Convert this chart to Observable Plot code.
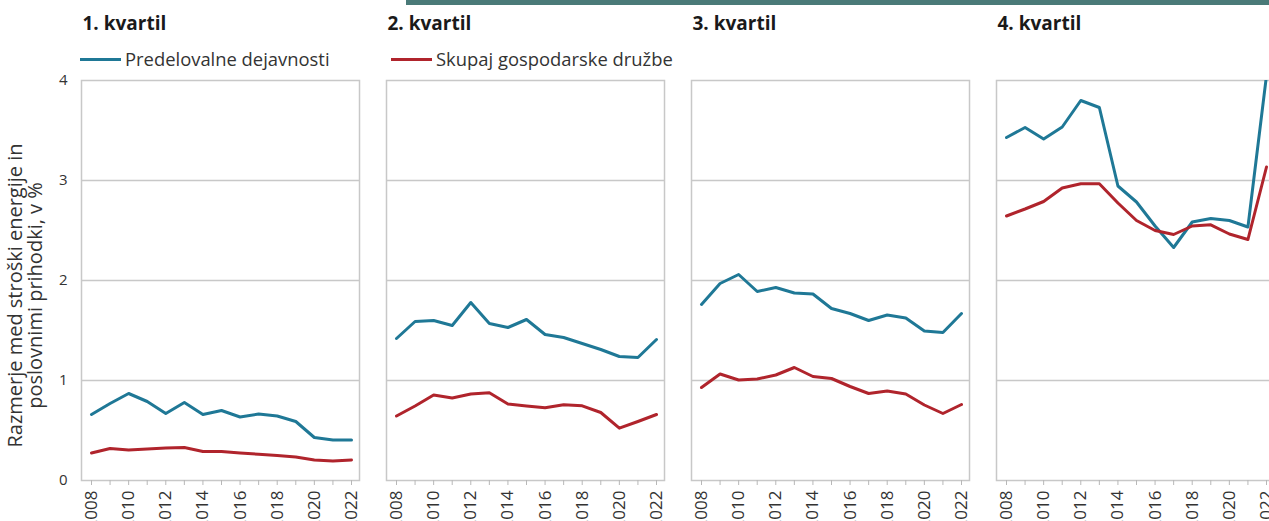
<!DOCTYPE html>
<html>
<head>
<meta charset="utf-8">
<script src="https://cdn.jsdelivr.net/npm/d3@7"></script>
<script src="https://cdn.jsdelivr.net/npm/@observablehq/plot@0.6"></script>
<style>
  html, body { margin: 0; padding: 0; background: #fff; }
  #wrap { position: relative; width: 1269px; height: 521px; overflow: hidden; font-family: "Open Sans", sans-serif; color: #333; }
  #topbar { position: absolute; left: 406px; top: 0; width: 863px; height: 5px; background: #4a7a78; }
  .leg { position: absolute; top: 46px; font-size: 18.4px; color: #333; white-space: nowrap; display: flex; align-items: center; }
  .leg .sw { display: inline-block; width: 41px; height: 3px; margin-right: 4px; margin-top: 2px; }
  #chart { position: absolute; left: 0; top: 0; }
  #chart svg { max-width: none !important; width: 1280px !important; height: 525px !important; }
</style>
</head>
<body>
<div id="wrap">
  <div id="topbar"></div>
  <div id="chart"></div>
</div>
<script>
const years = [2008, 2009, 2010, 2011, 2012, 2013, 2014, 2015, 2016, 2017, 2018, 2019, 2020, 2021, 2022];
const quartiles = ["1. kvartil", "2. kvartil", "3. kvartil", "4. kvartil"];
const seriesNames = ["Predelovalne dejavnosti", "Skupaj gospodarske družbe"];
const seriesColors = ["#1f7896", "#b0242c"];
const yTicks = [0, 1, 2, 3, 4];
const yGrid = [1, 2, 3];
const yLabel = "Razmerje med stroški energije in\nposlovnimi prihodki, v %";

// Predelovalne dejavnosti (manufacturing)
const manufQ1 = [0.66, 0.77, 0.87, 0.79, 0.67, 0.78, 0.66, 0.70, 0.635, 0.665, 0.645, 0.59, 0.43, 0.405, 0.405];
const manufQ2 = [1.42, 1.59, 1.60, 1.55, 1.78, 1.57, 1.53, 1.61, 1.46, 1.43, 1.37, 1.31, 1.24, 1.23, 1.41];
const manufQ3 = [1.76, 1.97, 2.06, 1.89, 1.93, 1.875, 1.865, 1.72, 1.67, 1.60, 1.655, 1.625, 1.495, 1.48, 1.67];
const manufQ4 = [3.43, 3.53, 3.415, 3.535, 3.80, 3.73, 2.945, 2.785, 2.545, 2.33, 2.585, 2.62, 2.60, 2.535, 4.05];
// Skupaj gospodarske družbe (all companies)
const totalQ1 = [0.275, 0.32, 0.305, 0.315, 0.325, 0.33, 0.29, 0.29, 0.275, 0.262, 0.25, 0.235, 0.205, 0.195, 0.205];
const totalQ2 = [0.645, 0.745, 0.855, 0.825, 0.865, 0.877, 0.765, 0.745, 0.727, 0.757, 0.747, 0.68, 0.523, 0.59, 0.66];
const totalQ3 = [0.93, 1.065, 1.005, 1.015, 1.055, 1.13, 1.04, 1.02, 0.94, 0.87, 0.895, 0.865, 0.755, 0.67, 0.76];
const totalQ4 = [2.645, 2.715, 2.79, 2.925, 2.967, 2.967, 2.775, 2.60, 2.50, 2.46, 2.545, 2.557, 2.465, 2.41, 3.135];

const manuf = [manufQ1, manufQ2, manufQ3, manufQ4];
const total = [totalQ1, totalQ2, totalQ3, totalQ4];

const rows = [];
quartiles.forEach((q, qi) => {
  years.forEach((yr, i) => {
    rows.push({q, year: yr, value: manuf[qi][i], series: seriesNames[0]});
  });
  years.forEach((yr, i) => {
    rows.push({q, year: yr, value: total[qi][i], series: seriesNames[1]});
  });
});

const chart = Plot.plot({
  width: 1280,
  height: 525,
  marginLeft: 80,
  marginRight: 6,
  marginTop: 80,
  marginBottom: 45,
  style: {fontFamily: "'Open Sans', sans-serif", color: "#333", background: "transparent", overflow: "visible", maxWidth: "none"},
  fx: {domain: quartiles, paddingInner: 0.0894, paddingOuter: 0, axis: null, label: null},
  x: {domain: [2008, 2022], insetLeft: 10, insetRight: 8, label: null},
  y: {domain: [0, 4], label: null},
  color: {domain: seriesNames, range: seriesColors},
  marks: [
    Plot.gridY(yGrid, {stroke: "#c8c8c8", strokeOpacity: 1, strokeWidth: 1.5}),
    Plot.frame({stroke: "#c8c8c8", strokeWidth: 1.5}),
    Plot.axisX({ticks: years, tickSize: 5, tickFormat: () => "", stroke: "#b8b8b8", label: null}),
    Plot.axisX({ticks: years.filter((d, i) => i % 2 === 0), tickSize: 0, tickPadding: 10, tickRotate: -90,
      tickFormat: d => String(d), fontSize: 17, fill: "#333", label: null}),
    Plot.axisY({ticks: yTicks, tickSize: 0, tickPadding: 14, tickFormat: d => String(d), fontSize: 15, fill: "#333", label: null}),
    Plot.text([yLabel], {fx: () => quartiles[0], text: d => d, frameAnchor: "left", rotate: -90,
      textAnchor: "middle", lineAnchor: "middle", dx: -56, dy: 15, fontSize: 20, fill: "#333"}),
    Plot.text(quartiles, {fx: d => d, text: d => d, frameAnchor: "top-left", textAnchor: "start", lineAnchor: "bottom",
      dx: 1, dy: -51, fontSize: 19, fontWeight: "bold", fill: "#1a1a1a"}),
    Plot.lineY(rows, {fx: "q", x: "year", y: "value", z: "series", stroke: "series", strokeWidth: 3, clip: true,
      strokeLinejoin: "round", strokeLinecap: "round"})
  ]
});
document.getElementById("chart").appendChild(chart);

// legend
const legendLeft = [80, 391];
seriesNames.forEach((name, i) => {
  const div = document.createElement("div");
  div.className = "leg";
  div.style.left = legendLeft[i] + "px";
  const sw = document.createElement("span");
  sw.className = "sw";
  sw.style.background = seriesColors[i];
  div.appendChild(sw);
  div.appendChild(document.createTextNode(name));
  document.getElementById("wrap").appendChild(div);
});
</script>
</body>
</html>
